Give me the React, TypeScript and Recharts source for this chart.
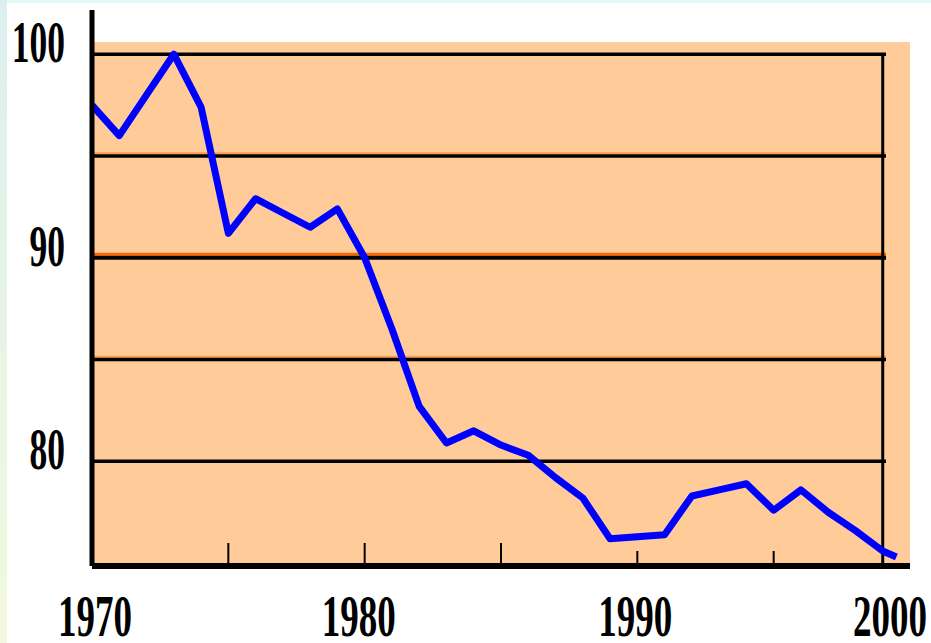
import {
  LineChart,
  Line,
  XAxis,
  YAxis,
  ReferenceArea,
  ReferenceLine,
} from 'recharts';

const years = [
  1970, 1971, 1972, 1973, 1974, 1975, 1976, 1977, 1978, 1979,
  1980, 1981, 1982, 1983, 1984, 1985, 1986, 1987, 1988, 1989,
  1990, 1991, 1992, 1993, 1994, 1995, 1996, 1997, 1998, 1999, 1999.5,
];
const values = [
  97.5, 96.0, 98.0, 100.0, 97.4, 91.2, 92.9, 92.2, 91.5, 92.4,
  90.0, 86.5, 82.7, 80.9, 81.5, 80.8, 80.3, 79.2, 78.2, 76.2,
  76.3, 76.4, 78.3, 78.6, 78.9, 77.6, 78.6, 77.5, 76.6, 75.6, 75.3,
];
const xTicks = [1970, 1975, 1980, 1985, 1990, 1995, 2000];
const yTicks = [80, 90, 100];
const gridValues = [80, 85, 90, 95, 100];

const data = years.map((year, i) => ({ year, v: values[i] }));

const Y_MIN = 74.86;
const Y_MAX = 102.17;
const FONT = '"Liberation Serif", "Times New Roman", serif';

// orange accent drawn just above some of the black grid lines
const accent: Record<number, { color: string; width: number }> = {
  85: { color: '#FF9A50', width: 2 },
  90: { color: '#FF6600', width: 3 },
  95: { color: '#FF9A50', width: 2 },
};

function XTick(props: any) {
  const { x, y, payload } = props;
  const year = payload.value as number;
  const shift: Record<number, number> = { 1970: 3, 1980: -6, 1990: -2, 2000: -20 };
  const tickLen = year < 1988 ? 20 : 12;
  const inner = year > 1970 && year < 2000;
  return (
    <g>
      {inner && (
        <line x1={x} x2={x} y1={y - tickLen - 3} y2={y - 2} stroke="#000" strokeWidth={2} />
      )}
      {year % 10 === 0 && (
        <g transform={`translate(${x + (shift[year] ?? 0)},${y + 70}) scale(1,1.6)`}>
          <text
            x={0}
            y={0}
            textAnchor="middle"
            fontFamily={FONT}
            fontWeight="bold"
            fontSize={37}
            fill="#000"
          >
            {year}
          </text>
        </g>
      )}
    </g>
  );
}

function YTick(props: any) {
  const { x, y, payload } = props;
  return (
    <g transform={`translate(${x - 27},${y + 8}) scale(1,1.65)`}>
      <text
        x={0}
        y={0}
        textAnchor="end"
        fontFamily={FONT}
        fontWeight="bold"
        fontSize={35.5}
        fill="#000"
      >
        {payload.value}
      </text>
    </g>
  );
}

function gridShape(value: number) {
  return (p: any) => {
    const a = accent[value];
    const x1 = p.x1;
    const x2 = p.x2 - 24;
    const w = value === 90 ? 4 : 3.5;
    const off = w / 2 + (a ? a.width / 2 : 0);
    return (
      <g>
        {a && (
          <line
            x1={x1}
            x2={x2}
            y1={p.y1 - off}
            y2={p.y2 - off}
            stroke={a.color}
            strokeWidth={a.width}
          />
        )}
        <line x1={x1} x2={x2} y1={p.y1} y2={p.y2} stroke="#000" strokeWidth={w} />
      </g>
    );
  };
}

export default function App() {
  return (
    <div
      style={{
        position: 'fixed',
        left: 0,
        top: 0,
        width: 931,
        height: 643,
        background: 'linear-gradient(to bottom, #DCEFEF, #F2F9DC)',
        overflow: 'hidden',
      }}
    >
      <div
        style={{
          position: 'absolute',
          left: 7,
          top: 3,
          right: 0,
          bottom: 0,
          background: '#FFFFFF',
        }}
      />
      <div style={{ position: 'absolute', left: 7, top: 0, right: 0, height: 3, background: '#E0FAFA' }} />
      <div style={{ position: 'absolute', left: 0, top: 0 }}>
        <LineChart
          width={931}
          height={643}
          data={data}
          margin={{ top: 10, right: 21, left: 0, bottom: 0 }}
        >
          <XAxis
            dataKey="year"
            type="number"
            domain={[1970, 2000]}
            ticks={xTicks}
            interval={0}
            axisLine={{ stroke: '#000', strokeWidth: 6 }}
            tickLine={false}
            tickSize={0}
            tickMargin={0}
            height={77}
            tick={<XTick />}
          />
          <YAxis
            type="number"
            domain={[Y_MIN, Y_MAX]}
            ticks={yTicks}
            interval={0}
            allowDataOverflow
            axisLine={{ stroke: '#000', strokeWidth: 5 }}
            tickLine={false}
            tickSize={0}
            tickMargin={0}
            width={92}
            tick={<YTick />}
          />
          <ReferenceArea
            x1={1970}
            x2={2000}
            y1={Y_MIN}
            y2={100.6}
            fill="#FFCC99"
            fillOpacity={1}
            stroke="none"
          />
          {gridValues.map((g) => (
            <ReferenceLine key={g} y={g} shape={gridShape(g)} />
          ))}
          <ReferenceLine
            segment={[
              { x: 1999, y: Y_MIN },
              { x: 1999, y: 100 },
            ]}
            stroke="#000"
            strokeWidth={3}
          />
          <Line
            type="linear"
            dataKey="v"
            stroke="#0000FF"
            strokeWidth={7}
            strokeLinejoin="round"
            dot={false}
            activeDot={false}
            isAnimationActive={false}
          />
        </LineChart>
      </div>
    </div>
  );
}
